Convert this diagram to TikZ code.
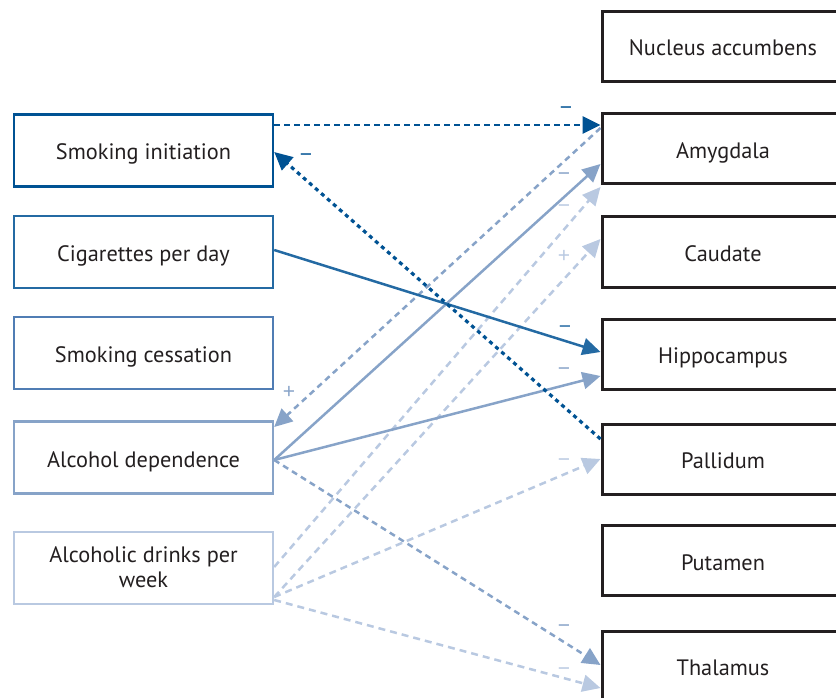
\documentclass[tikz,border=0pt]{standalone}
\usepackage{fontspec}
\setmainfont{PT Sans}
\newfontfamily\signfont{Liberation Sans}
\usetikzlibrary{arrows.meta}
\definecolor{c1}{RGB}{0,82,147}
\definecolor{c2}{RGB}{36,106,163}
\definecolor{c3}{RGB}{80,125,180}
\definecolor{c4}{RGB}{135,163,200}
\definecolor{c5}{RGB}{185,201,225}
\definecolor{txt}{RGB}{35,31,32}
\begin{document}
\begin{tikzpicture}[x=1pt,y=-1pt,
  boxbase/.style={draw, line width=2.4pt, minimum width=259pt, minimum height=72pt, inner sep=0pt, text=txt, font=\fontsize{22.3}{25}\selectfont, align=center},
  lbox/.style={boxbase, text height=20pt, text depth=1pt},
  lbox2/.style={boxbase, text depth=2pt},
  rbox/.style={draw=txt, line width=3pt, minimum width=242pt, minimum height=70pt, inner sep=0pt, text=txt, font=\fontsize{22.3}{25}\selectfont, text height=20pt, text depth=1pt},
  tip/.style={-{Triangle[length=18pt,width=17pt]}},
  solidline/.style={tip, line width=2.5pt},
  dashA/.style={tip, line width=2.7pt, dash pattern=on 6pt off 4pt},
  dashB/.style={tip, line width=3.2pt, dash pattern=on 4pt off 4pt},
  dashC/.style={tip, line width=2.5pt, dash pattern=on 6pt off 4.5pt},
  dashD/.style={tip, line width=2.5pt, dash pattern=on 7pt off 5pt},
  sgn/.style={font=\signfont\fontsize{21}{21}\selectfont, inner sep=0pt}]
\useasboundingbox (0,0) rectangle (836,698);

% left boxes
\node[lbox, draw=c1] (si)  at (143.5,150.5) {Smoking initiation};
\node[lbox, draw=c2] (cpd) at (143.5,252) {Cigarettes per day};
\node[lbox, draw=c3] (sc)  at (143.5,353) {Smoking cessation};
\node[lbox, draw=c4] (ad)  at (143.5,457.5) {Alcohol dependence};
\node[lbox2, draw=c5] (adw) at (143.5,568) {Alcoholic drinks per\\week};

% right boxes
\node[rbox] (na)  at (723,46.5) {Nucleus accumbens};
\node[rbox] (amy) at (723,149) {Amygdala};
\node[rbox] (cau) at (723,252) {Caudate};
\node[rbox] (hip) at (723,354) {Hippocampus};
\node[rbox] (pal) at (723,459) {Pallidum};
\node[rbox] (put) at (723,560.5) {Putamen};
\node[rbox] (tha) at (723,666) {Thalamus};

% alcoholic drinks per week
\draw[dashD, c5] ([yshift=1pt]adw.east) -- ([yshift=-38pt]amy.west);
\draw[dashD, c5] ([yshift=-29pt]adw.east) -- ([yshift=13pt]cau.west);
\draw[dashD, c5] ([yshift=-29pt]adw.east) -- (pal.west);
\draw[dashD, c5] ([yshift=-32pt]adw.east) -- ([yshift=-22pt]tha.west);

% alcohol dependence
\draw[dashC, c4] ([yshift=21pt]amy.west) -- ([yshift=30.5pt]ad.east);
\draw[dashC, c4] ([yshift=-2.5pt]ad.east) -- ([yshift=1pt]tha.west);
\draw[solidline, c4] ([yshift=-2.5pt]ad.east) -- ([yshift=-15pt]amy.west);
\draw[solidline, c4] ([yshift=-2.5pt]ad.east) -- ([yshift=-22pt]hip.west);

% cigarettes per day
\draw[solidline, c2] ([yshift=2pt]cpd.east) -- ([yshift=2pt]hip.west);

% smoking initiation
\draw[dashB, c1] ([yshift=20pt]pal.west) -- ([yshift=-1.5pt]si.east);
\draw[dashA, c1] ([yshift=25.5pt]si.east) -- ([yshift=24pt]amy.west);

% signs
\node[sgn, text=c1] (l1) at (566,111) {−};
\node[sgn, text=c1] (l2) at (306,158) {−};
\node[sgn, text=c2] (l3) at (565,330) {−};
\node[sgn, text=c4] (l4) at (564,177) {−};
\node[sgn, text=c4] (l5) at (564,372) {−};
\node[sgn, text=c4] (l6) at (289,392) {+};
\node[sgn, text=c4] (l7) at (564,629) {−};
\node[sgn, text=c5] (l8) at (564,209) {−};
\node[sgn, text=c5] (l9) at (564,256) {+};
\node[sgn, text=c5] (l10) at (564,463) {−};
\node[sgn, text=c5] (l11) at (564,672) {−};
\end{tikzpicture}
\end{document}
